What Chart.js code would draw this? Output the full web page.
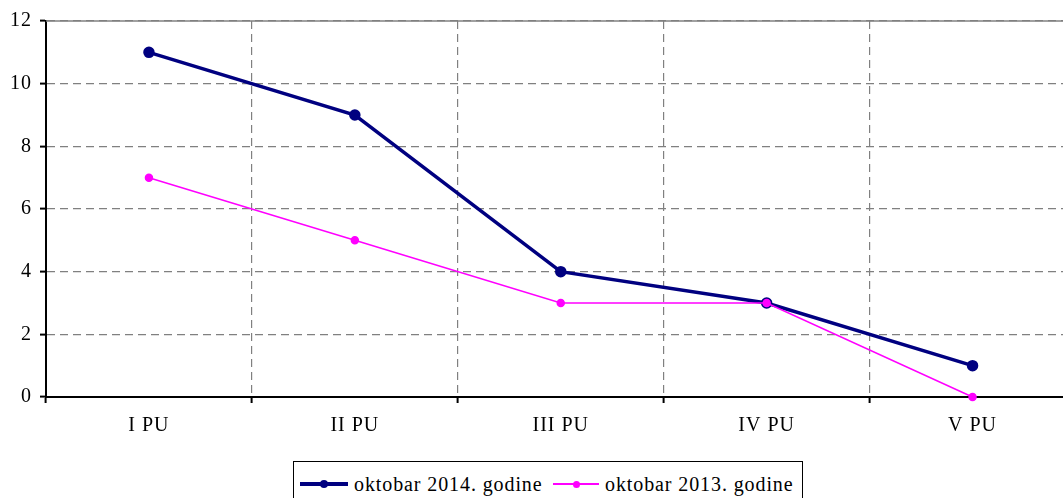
<!DOCTYPE html>
<html>
<head>
<meta charset="utf-8">
<script src="https://cdn.jsdelivr.net/npm/chart.js@4"></script>
<style>
  body { margin: 0; overflow: hidden; background: #fff; width: 1063px; height: 498px; position: relative; }
  #wrap { position: absolute; left: 0; top: 0; width: 1083px; height: 445px; }
  #legend {
    position: absolute; left: 293px; top: 461px; width: 510px; height: 40px;
    border: 1.5px solid #000; box-sizing: border-box;
    font-family: "Liberation Serif", "Times New Roman", serif; font-size: 20px; letter-spacing: 0.9px; color: #000;
  }
  .item { position: absolute; top: 10px; height: 24px; line-height: 24px; white-space: nowrap; }
  .swatch { position: absolute; top: 22px; }
  .swatch .ln { position: absolute; left: 0; }
  .swatch .dot { position: absolute; border-radius: 50%; }
</style>
</head>
<body>
<div id="wrap"><canvas id="chart" width="1083" height="445"></canvas></div>
<div id="legend"></div>
<script>
// data
const categories = ['I PU', 'II PU', 'III PU', 'IV PU', 'V PU'];
const series2014 = [11, 9, 4, 3, 1];
const series2013 = [7, 5, 3, 3, 0];
const seriesNames = ['oktobar 2014. godine', 'oktobar 2013. godine'];
const seriesColors = ['#000080', '#ff00ff'];

const axisFont = { family: 'Liberation Serif', size: 20 };

// solid top frame line at max value
const topLinePlugin = {
    id: 'topLine',
    beforeDraw(chart) {
        chart.ctx.letterSpacing = '1px';
    },
    afterDatasetsDraw(chart) {
        const { ctx, chartArea } = chart;
        ctx.save();
        ctx.strokeStyle = '#808080';
        ctx.lineWidth = 1.5;
        ctx.beginPath();
        ctx.moveTo(chartArea.left, chartArea.top);
        ctx.lineTo(chartArea.right, chartArea.top);
        ctx.stroke();
        ctx.restore();
        console.log('chartArea', JSON.stringify(chartArea));
    }
};

new Chart(document.getElementById('chart'), {
    type: 'line',
    data: {
        labels: categories,
        datasets: [{
            label: seriesNames[0],
            data: series2014,
            borderColor: seriesColors[0],
            backgroundColor: seriesColors[0],
            borderWidth: 3.5,
            pointRadius: 4,
            pointHoverRadius: 4,
            tension: 0,
            order: 1
        }, {
            label: seriesNames[1],
            data: series2013,
            borderColor: seriesColors[1],
            backgroundColor: seriesColors[1],
            borderWidth: 1.5,
            pointRadius: 3.5,
            pointHoverRadius: 3.5,
            tension: 0,
            order: 0
        }]
    },
    options: {
        responsive: false,
        animation: false,
        clip: false,
        layout: { padding: { top: 21, left: 0, right: 0, bottom: 0 } },
        plugins: {
            legend: { display: false },
            tooltip: { enabled: false }
        },
        scales: {
            x: {
                offset: true,
                grid: {
                    offset: true,
                    color: '#808080',
                    lineWidth: 1.2,
                    tickColor: '#000',
                    tickLength: 6,
                    tickWidth: 2
                },
                border: { color: '#000', width: 2, dash: [8, 5] },
                ticks: { color: '#000', font: axisFont, padding: 11 },
                afterFit(scale) { scale.height = 48; }
            },
            y: {
                min: 0,
                max: 12,
                ticks: { stepSize: 2, color: '#000', font: axisFont, padding: 8 },
                grid: {
                    color: '#808080',
                    lineWidth: 1.2,
                    tickColor: '#000',
                    tickLength: 6,
                    tickWidth: 2
                },
                border: { color: '#000', width: 2, dash: [8, 5] },
                afterFit(scale) { scale.width = 46; }
            }
        }
    },
    plugins: [topLinePlugin]
});

// html legend
const legend = document.getElementById('legend');
const itemPos = [
    { line: 6, text: 60, w: 48, lw: 3.5, r: 4 },
    { line: 259, text: 311, w: 46, lw: 1.5, r: 3.5 }
];
seriesNames.forEach((name, i) => {
    const p = itemPos[i];
    const sw = document.createElement('div');
    sw.className = 'swatch';
    sw.style.left = p.line + 'px';
    sw.style.width = p.w + 'px';
    sw.innerHTML = '<div class="ln" style="width:' + p.w + 'px;height:' + p.lw + 'px;top:' + (-p.lw / 2) + 'px;background:' + seriesColors[i] + '"></div>' +
        '<div class="dot" style="width:' + (2 * p.r) + 'px;height:' + (2 * p.r) + 'px;left:' + (p.w / 2 - p.r) + 'px;top:' + (-p.r) + 'px;background:' + seriesColors[i] + '"></div>';
    legend.appendChild(sw);
    const t = document.createElement('div');
    t.className = 'item';
    t.style.left = p.text + 'px';
    t.textContent = name;
    legend.appendChild(t);
});
</script>
</body>
</html>
